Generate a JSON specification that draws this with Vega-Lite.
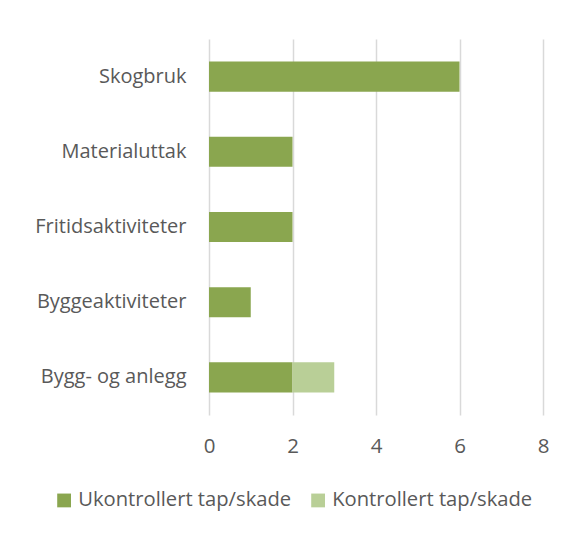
{
  "$schema": "https://vega.github.io/schema/vega-lite/v6.json",
  "width": 334,
  "height": 376,
  "autosize": {"type": "none"},
  "padding": {"left": 209, "top": 39, "right": 30, "bottom": 118},
  "background": "white",
  "config": {"view": {"stroke": null}, "font": "Open Sans"},
  "data": {"values": [
    {"cat": "Skogbruk", "type": "Ukontrollert tap/skade", "v": 6},
    {"cat": "Materialuttak", "type": "Ukontrollert tap/skade", "v": 2},
    {"cat": "Fritidsaktiviteter", "type": "Ukontrollert tap/skade", "v": 2},
    {"cat": "Byggeaktiviteter", "type": "Ukontrollert tap/skade", "v": 1},
    {"cat": "Bygg- og anlegg", "type": "Ukontrollert tap/skade", "v": 2},
    {"cat": "Bygg- og anlegg", "type": "Kontrollert tap/skade", "v": 1}
  ]},
  "mark": {"type": "bar"},
  "encoding": {
    "y": {
      "field": "cat", "type": "nominal",
      "sort": ["Skogbruk", "Materialuttak", "Fritidsaktiviteter", "Byggeaktiviteter", "Bygg- og anlegg"],
      "scale": {"paddingInner": 0.6, "paddingOuter": 0.3},
      "axis": {"title": null, "domain": false, "ticks": false, "labelFontSize": 20, "labelColor": "#595959", "labelPadding": 23, "labelLimit": 300}
    },
    "x": {
      "field": "v", "type": "quantitative", "stack": "zero",
      "scale": {"domain": [0, 8], "nice": false},
      "axis": {"title": null, "values": [0, 2, 4, 6, 8], "domain": false, "ticks": false, "labelFlush": false, "labelFontSize": 20.5, "labelColor": "#595959", "labelPadding": 21, "gridColor": "#D9D9D9", "gridWidth": 1.5}
    },
    "order": {"field": "type", "sort": "descending"},
    "color": {
      "field": "type", "type": "nominal",
      "scale": {"domain": ["Ukontrollert tap/skade", "Kontrollert tap/skade"], "range": ["#8AA64F", "#B9CF97"]},
      "legend": {"title": null, "orient": "none", "direction": "horizontal", "legendX": -155, "legendY": 451, "labelFontSize": 20.2, "labelColor": "#595959", "labelLimit": 400, "symbolType": "square", "symbolSize": 190, "symbolStrokeWidth": 0, "columnPadding": 16, "labelOffset": 4}
    }
  }
}
